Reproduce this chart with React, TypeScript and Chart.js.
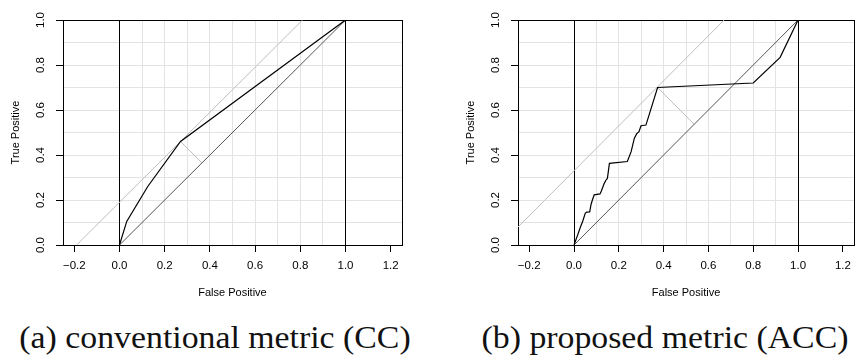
import React, { useEffect, useRef } from "react";
import { Chart, registerables } from "chart.js";

Chart.register(...registerables);

// ---- data ----
const xTicks = [-0.2, 0, 0.2, 0.4, 0.6, 0.8, 1.0, 1.2];
const yTicks = [0, 0.2, 0.4, 0.6, 0.8, 1.0];
const gridXValues = [0, 0.1, 0.2, 0.3, 0.4, 0.5, 0.6, 0.7, 0.8, 0.9, 1.0];
const gridYValues = [0, 0.1, 0.2, 0.3, 0.4, 0.5, 0.6, 0.7, 0.8, 0.9, 1.0];

const diagX = [0, 1];
const diagY = [0, 1];

// (a) conventional metric
const ccRocFpr = [0, 0.032, 0.125, 0.27, 1];
const ccRocTpr = [0, 0.105, 0.26, 0.46, 1];
const ccIsoX = [-0.19, 0.81];
const ccIsoY = [0, 1];
const ccPerpX = [0.27, 0.365];
const ccPerpY = [0.46, 0.365];

// (b) proposed metric
const accRocFpr = [
  0, 0.016, 0.028, 0.04, 0.05, 0.056, 0.07, 0.076, 0.082, 0.09, 0.116, 0.122,
  0.135, 0.143, 0.149, 0.158, 0.238, 0.255, 0.269, 0.28, 0.29, 0.299, 0.321,
  0.373, 0.8, 0.92, 1,
];
const accRocTpr = [
  0, 0.044, 0.078, 0.109, 0.141, 0.146, 0.147, 0.18, 0.2, 0.223, 0.227, 0.24,
  0.274, 0.289, 0.296, 0.363, 0.371, 0.415, 0.474, 0.495, 0.504, 0.53, 0.533,
  0.7, 0.72, 0.834, 1,
];
const accIsoX = [-0.25, 0.67];
const accIsoY = [0.08, 1];
const accPerpX = [0.373, 0.5365];
const accPerpY = [0.7, 0.5365];

const captions = ["(a) conventional metric (CC)", "(b) proposed metric (ACC)"];

const pts = (xs: number[], ys: number[]) => xs.map((x, i) => ({ x, y: ys[i] }));

const TICK_FONT = { family: "'Liberation Sans', Arial, sans-serif", size: 11.5 };
const TITLE_FONT = { family: "'Liberation Sans', Arial, sans-serif", size: 11 };

function makeConfig(p: any) {
  const line = (data: any, color: string, width: number) => ({
    data,
    borderColor: color,
    borderWidth: width,
    pointRadius: 0,
    showLine: true,
    fill: false,
    tension: 0,
  });
  return {
    type: "scatter",
    data: {
      datasets: [
        line(pts(p.rocX, p.rocY), "#000000", 1.2),
        line(pts(diagX, diagY), "#555555", 1),
        line(pts(p.isoX, p.isoY), "#bebebe", 1),
        line(pts(p.perpX, p.perpY), "#bebebe", 1),
      ],
    },
    options: {
      animation: false,
      responsive: false,
      maintainAspectRatio: false,
      events: [],
      layout: { padding: { left: 0, top: 20, right: p.padRight, bottom: 0 } },
      plugins: { legend: { display: false }, tooltip: { enabled: false }, title: { display: false } },
      scales: {
        x: {
          type: "linear",
          position: "bottom",
          min: -0.25,
          max: 1.25,
          afterBuildTicks: (s: any) => {
            s.ticks = xTicks.map((v) => ({ value: v }));
          },
          afterFit: (s: any) => {
            s.height = 55;
          },
          ticks: {
            font: TICK_FONT,
            color: "#000",
            padding: 7,
            maxRotation: 0,
            minRotation: 0,
            autoSkip: false,
            callback: (v: number) => (v < 0 ? "\u2212" + Math.abs(v).toFixed(1) : v.toFixed(1)),
          },
          grid: { drawOnChartArea: false, drawTicks: true, tickLength: 7, color: "#000", lineWidth: 1 },
          border: { display: true, color: "#000", width: 1 },
          title: {
            display: true,
            text: "False Positive",
            font: TITLE_FONT,
            color: "#000",
            padding: { top: 0, bottom: 0 },
          },
        },
        y: {
          type: "linear",
          position: "left",
          min: 0,
          max: 1,
          afterBuildTicks: (s: any) => {
            s.ticks = yTicks.map((v) => ({ value: v }));
          },
          afterFit: (s: any) => {
            s.width = 63;
          },
          ticks: {
            font: TICK_FONT,
            color: "#000",
            padding: 7,
            minRotation: 90,
            maxRotation: 90,
            crossAlign: "center",
            autoSkip: false,
            callback: (v: number) => v.toFixed(1),
          },
          grid: { drawOnChartArea: false, drawTicks: true, tickLength: 7, color: "#000", lineWidth: 1 },
          border: { display: true, color: "#000", width: 1 },
          title: {
            display: true,
            text: "True Positive",
            font: TITLE_FONT,
            color: "#000",
            padding: { top: 9, bottom: 0 },
          },
        },
        xGrid: {
          type: "linear",
          position: "top",
          min: -0.25,
          max: 1.25,
          afterBuildTicks: (s: any) => {
            s.ticks = gridXValues.map((v) => ({ value: v }));
          },
          afterFit: (s: any) => {
            s.height = 0;
          },
          ticks: { display: false },
          grid: {
            z: -0.5,
            drawOnChartArea: true,
            drawTicks: false,
            color: (c: any) =>
              c.tick && (c.tick.value === 0 || c.tick.value === 1) ? "#000000" : "#e3e3e3",
            lineWidth: 1,
          },
          border: { display: true, color: "#000", width: 1 },
        },
        yGrid: {
          type: "linear",
          position: "right",
          min: 0,
          max: 1,
          afterBuildTicks: (s: any) => {
            s.ticks = gridYValues.map((v) => ({ value: v }));
          },
          afterFit: (s: any) => {
            s.width = 0;
          },
          ticks: { display: false },
          grid: { z: -1, drawOnChartArea: true, drawTicks: false, color: "#e3e3e3", lineWidth: 1 },
          border: { display: true, color: "#000", width: 1 },
        },
      },
    },
  };
}

function Panel(props: any) {
  const ref = useRef<HTMLCanvasElement>(null);
  useEffect(() => {
    const chart = new Chart(ref.current as HTMLCanvasElement, makeConfig(props) as any);
    return () => chart.destroy();
  }, []);
  return (
    <canvas
      ref={ref}
      width={props.width}
      height={300}
      style={{ position: "absolute", left: props.left, top: 0, width: props.width, height: 300 }}
    />
  );
}

export default function App() {
  useEffect(() => {
    document.body.style.margin = "0";
  }, []);
  const capStyle: any = {
    position: "absolute",
    top: 320,
    fontFamily: "'Liberation Serif', 'DejaVu Serif', serif",
    fontSize: 31,
    fontWeight: 400,
    lineHeight: "36px",
    whiteSpace: "nowrap",
    color: "#111",
    transform: "translateX(-50%) scaleX(1.09)",
  };
  return (
    <div style={{ position: "fixed", left: 0, top: 0, width: 858, height: 360, background: "#fff", overflow: "hidden" }}>
      <Panel
        left={0}
        width={429}
        padRight={27}
        rocX={ccRocFpr}
        rocY={ccRocTpr}
        isoX={ccIsoX}
        isoY={ccIsoY}
        perpX={ccPerpX}
        perpY={ccPerpY}
      />
      <Panel
        left={455}
        width={403}
        padRight={2}
        rocX={accRocFpr}
        rocY={accRocTpr}
        isoX={accIsoX}
        isoY={accIsoY}
        perpX={accPerpX}
        perpY={accPerpY}
      />
      <div style={{ ...capStyle, left: 215 }}>{captions[0]}</div>
      <div style={{ ...capStyle, left: 665 }}>{captions[1]}</div>
    </div>
  );
}
